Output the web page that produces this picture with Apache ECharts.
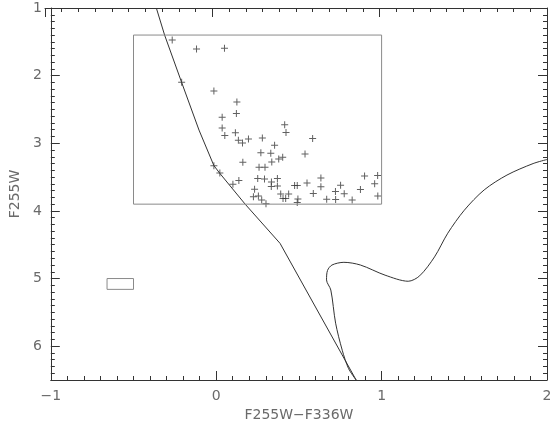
<!DOCTYPE html>
<html>
<head>
<meta charset="utf-8">
<script src="https://cdn.jsdelivr.net/npm/echarts@6/dist/echarts.min.js"></script>
<style>html,body{margin:0;padding:0;background:#fff}#c{width:560px;height:433px}</style>
</head>
<body>
<div id="c"></div>
<script>
// Tick labels
const xTicks = [-1, 0, 1, 2];
const yTicks = [1, 2, 3, 4, 5, 6];

// Observed stars (F255W-F336W, F255W)
const starColor = [-0.266,-0.119,0.050,-0.209,-0.014,0.125,0.122,0.036,0.036,0.052,0.116,0.134,0.159,0.195,0.279,0.414,0.422,0.583,0.353,0.270,0.330,0.537,0.402,0.378,0.336,0.161,0.259,0.295,-0.014,0.022,0.251,0.292,0.370,0.334,0.137,0.101,0.370,0.333,0.232,0.474,0.490,0.549,0.633,0.633,0.225,0.255,0.275,0.301,0.390,0.438,0.420,0.404,0.494,0.490,0.587,0.668,0.721,0.722,0.752,0.774,0.822,0.872,0.897,0.958,0.976,0.977];
const starMag   = [1.473,1.607,1.596,2.099,2.228,2.391,2.558,2.617,2.775,2.886,2.845,2.957,2.997,2.938,2.923,2.726,2.839,2.930,3.031,3.141,3.149,3.160,3.207,3.234,3.278,3.281,3.355,3.355,3.333,3.441,3.519,3.530,3.519,3.574,3.549,3.607,3.633,3.638,3.678,3.623,3.623,3.589,3.515,3.643,3.791,3.781,3.840,3.895,3.751,3.751,3.815,3.815,3.825,3.874,3.744,3.828,3.712,3.830,3.621,3.747,3.840,3.682,3.485,3.599,3.478,3.781];

// Sequence line
const seqColor = [-0.362,-0.312,-0.209,-0.104,-0.014,0.022,0.175,0.386,0.846];
const seqMag   = [1.0,1.4,2.10,2.805,3.33,3.445,3.9,4.48,6.5];

// Isochrone track
const isoColor = [0.846,0.800,0.762,0.722,0.693,0.667,0.673,0.700,0.772,0.872,1.021,1.161,1.230,1.320,1.400,1.500,1.620,1.758,1.916,2.0];
const isoMag   = [6.5,6.33,6.06,5.66,5.17,5.02,4.88,4.80,4.76,4.80,4.95,5.04,4.96,4.68,4.33,3.99,3.69,3.47,3.30,3.24];

// Selection box and error box
const boxColor = [-0.5,1.0,1.0,-0.5,-0.5];
const boxMag   = [1.4,1.4,3.9,3.9,1.4];
const errColor = [-0.66,-0.5,-0.5,-0.66,-0.66];
const errMag   = [5.0,5.0,5.16,5.16,5.0];

const zip = (a,b) => a.map((v,i)=>[v,b[i]]);
const fmt = v => {
  const r = Math.round(v);
  if (Math.abs(v-r) > 1e-6 || !xTicks.concat(yTicks).includes(r)) return '';
  return r < 0 ? '\u2212' + Math.abs(r) : String(r);
};

const lineC = '#333';
const labelStyle = {color:'#6a6a6a', fontFamily:'DejaVu Sans', fontSize:14};

function ax(dim, pos, grid, labels) {
  const isX = dim === 'x';
  const a = {
    type:'value', gridIndex:grid, position:pos,
    min: isX ? -1 : 1, max: isX ? 2 : 6.5, interval:1,
    inverse: !isX,
    axisLine:{show:true, onZero:false, lineStyle:{color:lineC}},
    axisTick:{show:true, inside:true, length:9, lineStyle:{color:lineC}},
    minorTick:{show:true, splitNumber:10, length:4, lineStyle:{color:lineC}},
    splitLine:{show:false}
  };
  if (labels) {
    a.axisLabel = {show:true, margin:9, formatter:fmt, color:labelStyle.color, fontFamily:labelStyle.fontFamily, fontSize:labelStyle.fontSize};
    a.name = isX ? 'F255W\u2212F336W' : 'F255W';
    a.nameLocation = 'middle';
    a.nameGap = isX ? 26 : 28;
    if (!isX) a.nameRotate = 90;
    a.nameTextStyle = labelStyle;
  } else {
    a.axisLabel = {show:false};
  }
  return a;
}

const chart = echarts.init(document.getElementById('c'));
chart.setOption({
  animation:false,
  grid:[{left:45, right:13, top:8, bottom:53}, {left:45, right:13, top:8, bottom:53}],
  xAxis:[ax('x','bottom',0,true), ax('x','top',1,false)],
  yAxis:[ax('y','left',0,true), ax('y','right',1,false)],
  series:[
    {type:'line', data:zip(seqColor,seqMag), showSymbol:false, symbol:'none', lineStyle:{color:lineC,width:1}},
    {type:'line', data:zip(isoColor,isoMag), showSymbol:false, symbol:'none', smooth:0.3, lineStyle:{color:lineC,width:1}},
    {type:'line', data:zip(boxColor,boxMag), showSymbol:false, symbol:'none', lineStyle:{color:'#8a8a8a',width:1}},
    {type:'line', data:zip(errColor,errMag), showSymbol:false, symbol:'none', lineStyle:{color:'#8a8a8a',width:1}},
    {type:'scatter', data:zip(starColor,starMag), symbol:'path://M3,0h1v7h-1z M0,3h7v1h-7z', symbolSize:7, itemStyle:{color:'#3a3a3a'}}
  ]
});
</script>
</body>
</html>
